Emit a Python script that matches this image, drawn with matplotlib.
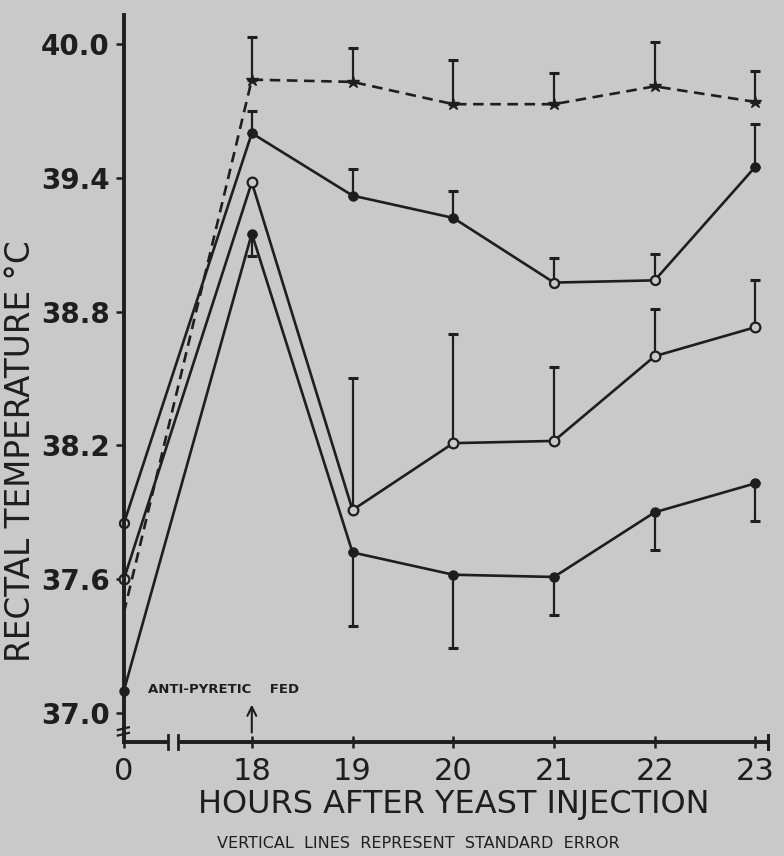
import matplotlib.pyplot as plt
import numpy as np

# hours after yeast injection
hours = [0, 18, 19, 20, 21, 22, 23]

# dashed series (star markers)
temp_dash = [37.45, 39.84, 39.83, 39.73, 39.73, 39.81, 39.74]
top_dash = [37.45, 40.03, 39.98, 39.93, 39.87, 40.01, 39.88]

# upper solid series (filled circles)
temp_b = [37.85, 39.60, 39.32, 39.22, 38.93, 38.94, 39.45]
top_b = [37.85, 39.70, 39.44, 39.34, 39.04, 39.06, 39.64]

# middle series (open circles)
temp_c = [37.60, 39.38, 37.91, 38.21, 38.22, 38.60, 38.73]
top_c = [37.60, 39.38, 38.50, 38.70, 38.55, 38.81, 38.94]

# lower series (filled circles), error drawn downward
temp_d = [37.10, 39.15, 37.72, 37.62, 37.61, 37.90, 38.03]
bot_d = [37.10, 39.05, 37.39, 37.29, 37.44, 37.73, 37.86]

y_ticks = [37.0, 37.6, 38.2, 38.8, 39.4, 40.0]
y_labels = ["37.0", "37.6", "38.2", "38.8", "39.4", "40.0"]

bg = '#c9c9c9'
ink = '#1e1e1e'


def pos(h):
    # broken axis: 0 sits left of the break, 18..23 evenly spaced
    return -1.27 if h == 0 else h - 18


x = np.array([pos(h) for h in hours])
e = slice(1, None)  # no error bars at hour 0

fig = plt.figure(figsize=(7.84, 8.56), dpi=100, facecolor=bg)
ax = fig.add_axes([0.158, 0.1332, 0.821, 0.8493], facecolor=bg)

eb = dict(fmt='none', ecolor=ink, elinewidth=1.6, capsize=3.5, capthick=2.2, clip_on=False)
up = np.array(top_dash) - np.array(temp_dash)
ax.errorbar(x[e], np.array(temp_dash)[e], yerr=[np.zeros(6), up[e]], **eb)
up = np.array(top_b) - np.array(temp_b)
ax.errorbar(x[e], np.array(temp_b)[e], yerr=[np.zeros(6), up[e]], **eb)
up = np.array(top_c) - np.array(temp_c)
ax.errorbar(x[2:], np.array(temp_c)[2:], yerr=[np.zeros(5), up[2:]], **eb)
dn = np.array(temp_d) - np.array(bot_d)
ax.errorbar(x[e], np.array(temp_d)[e], yerr=[dn[e], np.zeros(6)], **eb)

# lines
ax.plot(x, temp_dash, '--', color=ink, lw=1.9, dashes=(4, 2.5),
        marker='*', ms=9, mfc=ink, mec=ink, markevery=list(range(1, 7)), clip_on=False)
ax.plot(x, temp_b, '-', color=ink, lw=1.9, marker='o', ms=6.5,
        mfc=ink, mec=ink, clip_on=False)
# a few points of this series look hollow in the scan
ax.plot(x[[0, 4, 5]], np.array(temp_b)[[0, 4, 5]], 'o', ms=6.5, mfc=bg, mec=ink,
        mew=1.6, clip_on=False)
ax.plot(x, temp_c, '-', color=ink, lw=1.9, marker='o', ms=7,
        mfc=bg, mec=ink, mew=1.6, clip_on=False)
ax.plot(x, temp_d, '-', color=ink, lw=1.9, marker='o', ms=6.5,
        mfc=ink, mec=ink, clip_on=False)

ax.set_xlim(-1.27, 5.12)
ax.set_ylim(36.87, 40.13)

for s in ['top', 'right']:
    ax.spines[s].set_visible(False)
for s in ['left', 'bottom']:
    ax.spines[s].set_linewidth(2.8)
    ax.spines[s].set_color(ink)

ax.set_xticks(x)
ax.set_xticklabels([str(h) for h in hours], fontsize=22, color=ink)
ax.set_yticks(y_ticks)
ax.set_yticklabels(y_labels, fontsize=20, color=ink, fontweight='bold')
ax.tick_params(axis='x', direction='inout', length=9, width=1.8, pad=6, colors=ink)
ax.tick_params(axis='y', direction='out', length=6, width=1.8, pad=4, colors=ink)

ax.set_xlabel('HOURS AFTER YEAST INJECTION', fontsize=23, color=ink)
ax.xaxis.set_label_coords(0.513, -0.065)
ax.set_ylabel('RECTAL TEMPERATURE °C', fontsize=23.5, color=ink)
ax.yaxis.set_label_coords(-0.135, 0.40)

# end cap of the x axis
ax.plot([5.12, 5.12], [36.84, 36.90], color=ink, lw=2.2, clip_on=False)

# axis break on the x axis
ax.axvspan(-0.83, -0.73, ymin=-0.02, ymax=0.012, color=bg, clip_on=False, zorder=5)
for xb in [-0.83, -0.73]:
    ax.plot([xb, xb], [36.84, 36.90], color=ink, lw=2.0, clip_on=False, zorder=6)
# axis break on the y axis
for yb in [36.905, 36.93]:
    ax.plot([-1.33, -1.22], [yb - 0.006, yb + 0.006], color=ink, lw=1.6,
            clip_on=False, zorder=6)

# annotation
ax.text(-1.03, 37.105, 'ANTI-PYRETIC    FED', fontsize=9.5, fontweight='bold',
        color=ink, va='center', ha='left')
ax.annotate('', xy=(0, 37.05), xytext=(0, 36.9),
            arrowprops=dict(arrowstyle='->', color=ink, lw=1.5, mutation_scale=16))

fig.text(0.533, 0.006, 'VERTICAL  LINES  REPRESENT  STANDARD  ERROR',
         fontsize=11.5, color=ink, ha='center', va='bottom')

fig.savefig('out.png', dpi=100, facecolor=bg)
